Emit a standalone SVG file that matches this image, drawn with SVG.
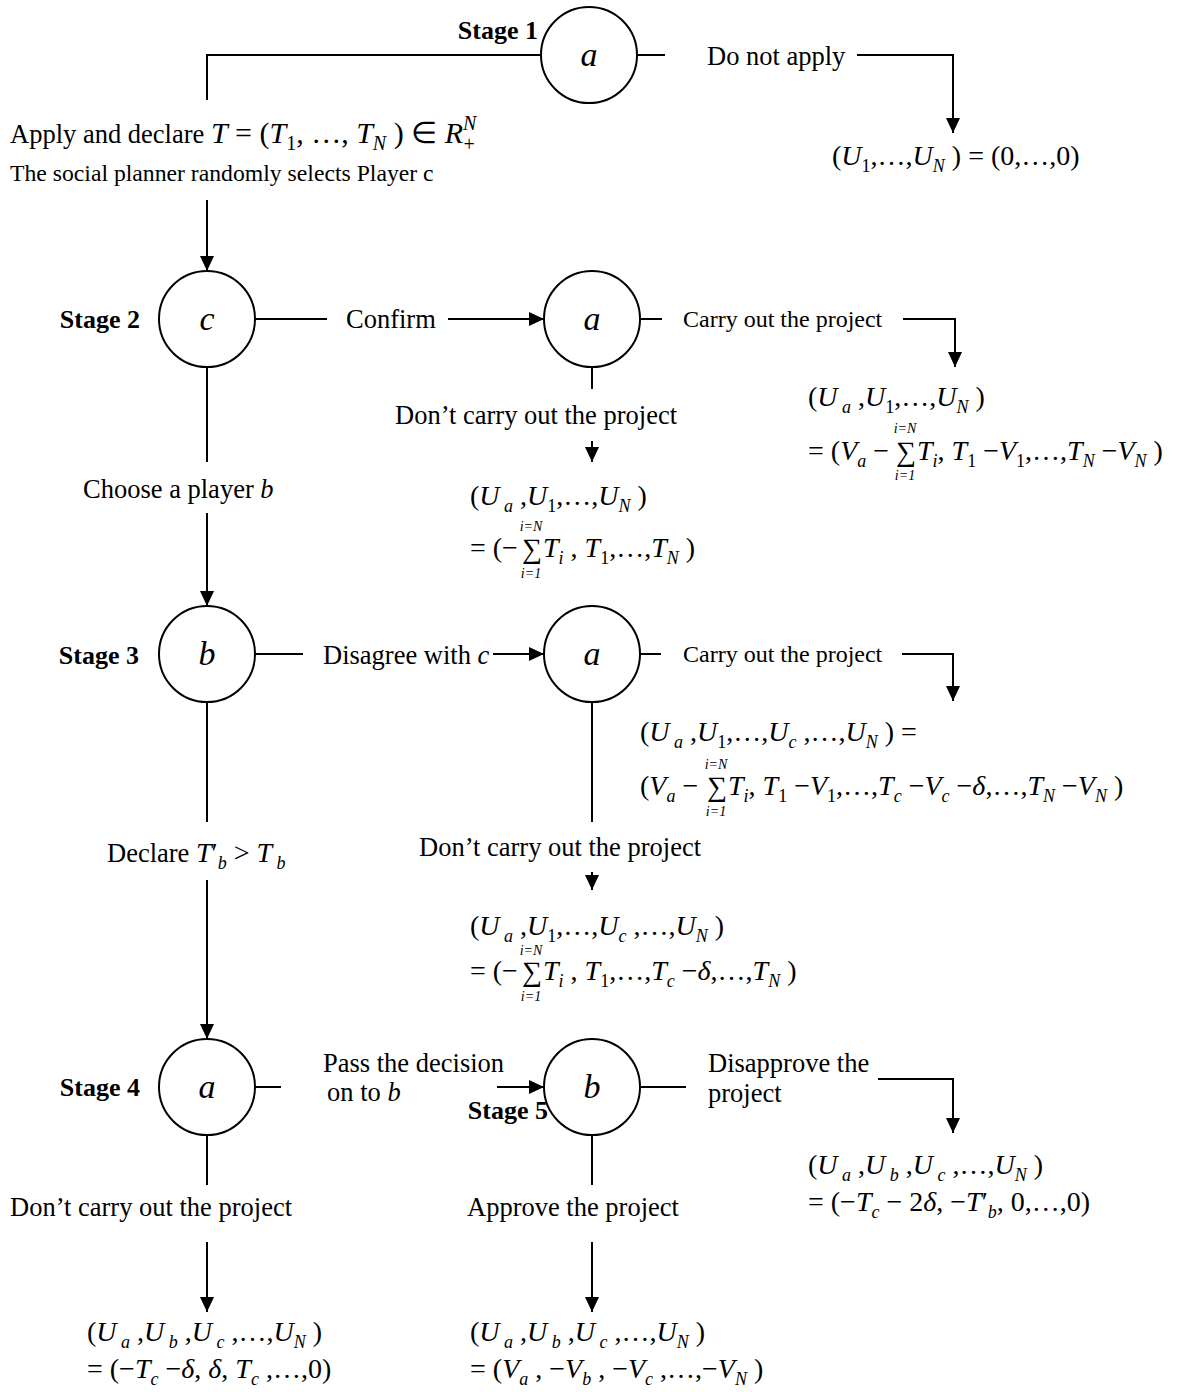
<svg xmlns="http://www.w3.org/2000/svg" width="1188" height="1392" viewBox="0 0 1188 1392">
<style>
.t{font-family:"Liberation Serif","Times New Roman",serif;font-size:26.5px;fill:#000}
.sm{font-size:24px}
.sp{font-size:23.7px}
.bd{font-weight:bold;font-size:26px}
.m{font-size:28px}
.ml{font-size:30px}
.i{font-style:italic}
.s{font-size:18px}
.sl{font-size:20px}
.sg{font-size:28px}
.lim{font-family:"Liberation Serif","Times New Roman",serif;font-size:14px;font-style:italic;text-anchor:middle;fill:#000}
.node{fill:#fff;stroke:#000;stroke-width:2}
.lbl{font-family:"Liberation Serif","Times New Roman",serif;font-size:34px;font-style:italic;text-anchor:middle;fill:#000}
.c{fill:none;stroke:#000;stroke-width:2}
.ar{marker-end:url(#ah)}
</style>
<defs>
<marker id="ah" markerWidth="16" markerHeight="14" refX="15" refY="7" orient="auto" markerUnits="userSpaceOnUse"><path d="M0,0 L15,7 L0,14 z" fill="#000"/></marker>
</defs>
<rect width="1188" height="1392" fill="#fff"/>

<g id="connectors">
<path class="c" d="M541,55 H207 V100"/>
<path class="c" d="M637,55 H665"/>
<path class="c ar" d="M857,55 H953 V133"/>
<path class="c ar" d="M207,200 V271"/>
<path class="c" d="M255,319 H327"/>
<path class="c ar" d="M448,319 H544"/>
<path class="c" d="M640,319 H662"/>
<path class="c ar" d="M903,319 H955 V367"/>
<path class="c" d="M592,367 V389"/>
<path class="c ar" d="M592,441 V462"/>
<path class="c" d="M207,367 V462"/>
<path class="c ar" d="M207,513 V606"/>
<path class="c" d="M255,654 H303"/>
<path class="c ar" d="M493,654 H544"/>
<path class="c" d="M640,654 H661"/>
<path class="c ar" d="M902,654 H953 V701"/>
<path class="c" d="M592,702 V822"/>
<path class="c ar" d="M592,872 V890"/>
<path class="c" d="M207,702 V822"/>
<path class="c ar" d="M207,880 V1039"/>
<path class="c" d="M255,1087 H281"/>
<path class="c ar" d="M497,1087 H544"/>
<path class="c" d="M640,1087 H686"/>
<path class="c ar" d="M878,1079 H953 V1133"/>
<path class="c" d="M207,1135 V1185"/>
<path class="c ar" d="M207,1242 V1312"/>
<path class="c" d="M592,1135 V1185"/>
<path class="c ar" d="M592,1242 V1312"/>
</g>

<g id="node-stage1-a">
<circle class="node" cx="589" cy="55" r="48"/>
<text class="lbl" x="589" y="66">a</text>
<text class="t bd" x="538" y="39" text-anchor="end">Stage 1</text>
</g>
<g id="node-stage2-c">
<circle class="node" cx="207" cy="319" r="48"/>
<text class="lbl" x="207" y="330">c</text>
<text class="t bd" x="140" y="328" text-anchor="end">Stage 2</text>
</g>
<g id="node-stage2-a">
<circle class="node" cx="592" cy="319" r="48"/>
<text class="lbl" x="592" y="330">a</text>
</g>
<g id="node-stage3-b">
<circle class="node" cx="207" cy="654" r="48"/>
<text class="lbl" x="207" y="665">b</text>
<text class="t bd" x="139" y="664" text-anchor="end">Stage 3</text>
</g>
<g id="node-stage3-a">
<circle class="node" cx="592" cy="654" r="48"/>
<text class="lbl" x="592" y="665">a</text>
</g>
<g id="node-stage4-a">
<circle class="node" cx="207" cy="1087" r="48"/>
<text class="lbl" x="207" y="1098">a</text>
<text class="t bd" x="140" y="1096" text-anchor="end">Stage 4</text>
</g>
<g id="node-stage5-b">
<circle class="node" cx="592" cy="1087" r="48"/>
<text class="lbl" x="592" y="1098">b</text>
<text class="t bd" x="548" y="1119" text-anchor="end">Stage 5</text>
</g>

<g id="labels">
<text class="t" x="707" y="65">Do not apply</text>
<text class="t" x="10" y="143">Apply and declare <tspan class="i ml">T</tspan><tspan class="ml"> = (</tspan><tspan class="i ml">T</tspan><tspan class="sl" dy="7">1</tspan><tspan class="ml" dy="-7">, …, </tspan><tspan class="i ml">T</tspan><tspan class="sl i" dy="7">N</tspan><tspan class="ml" dy="-7"> ) ∈ </tspan><tspan class="i ml">R</tspan><tspan class="sl i" dy="-13">N</tspan><tspan class="sl" dx="-13" dy="21">+</tspan></text>
<text class="t sp" x="10" y="181">The social planner randomly selects Player c</text>
<text class="t" x="346" y="328">Confirm</text>
<text class="t sm" x="683" y="327">Carry out the project</text>
<text class="t" x="395" y="424">Don’t carry out the project</text>
<text class="t" x="83" y="498">Choose a player <tspan class="i">b</tspan></text>
<text class="t" x="323" y="664">Disagree with <tspan class="i">c</tspan></text>
<text class="t sm" x="683" y="662">Carry out the project</text>
<text class="t" x="107" y="862">Declare <tspan class="i m">T</tspan><tspan class="m">′</tspan><tspan class="s i" dy="7">b</tspan><tspan class="m" dy="-7"> &gt; </tspan><tspan class="i m">T</tspan><tspan class="s i" dy="7"> b</tspan></text>
<text class="t" x="419" y="856">Don’t carry out the project</text>
<text class="t" x="323" y="1072">Pass the decision</text>
<text class="t" x="327" y="1101">on to <tspan class="i">b</tspan></text>
<text class="t" x="708" y="1072">Disapprove the</text>
<text class="t" x="708" y="1102">project</text>
<text class="t" x="10" y="1216">Don’t carry out the project</text>
<text class="t" x="467" y="1216">Approve the project</text>
</g>

<g id="payoffs">
<text class="t m" x="832" y="165">(<tspan class="i">U</tspan><tspan class="s" dy="7">1</tspan><tspan dy="-7">,…,</tspan><tspan class="i">U</tspan><tspan class="s i" dy="7">N</tspan><tspan dy="-7"> ) = (0,…,0)</tspan></text>

<text class="t m" x="808" y="406">(<tspan class="i">U</tspan><tspan class="s i" dy="7"> a</tspan><tspan dy="-7"> ,</tspan><tspan class="i">U</tspan><tspan class="s" dy="7">1</tspan><tspan dy="-7">,…,</tspan><tspan class="i">U</tspan><tspan class="s i" dy="7">N</tspan><tspan dy="-7"> )</tspan></text>
<text class="t m" x="808" y="460">= (<tspan class="i">V</tspan><tspan class="s i" dy="7">a</tspan><tspan dy="-7"> −</tspan></text>
<text class="t sg" x="896" y="461">∑</text>
<text class="lim" x="905" y="433">i=N</text>
<text class="lim" x="905" y="480">i=1</text>
<text class="t m" x="917" y="460"><tspan class="i">T</tspan><tspan class="s i" dy="7">i</tspan><tspan dy="-7">, </tspan><tspan class="i">T</tspan><tspan class="s" dy="7">1</tspan><tspan dy="-7"> −</tspan><tspan class="i">V</tspan><tspan class="s" dy="7">1</tspan><tspan dy="-7">,…,</tspan><tspan class="i">T</tspan><tspan class="s i" dy="7">N</tspan><tspan dy="-7"> −</tspan><tspan class="i">V</tspan><tspan class="s i" dy="7">N</tspan><tspan dy="-7"> )</tspan></text>

<text class="t m" x="470" y="505">(<tspan class="i">U</tspan><tspan class="s i" dy="7"> a</tspan><tspan dy="-7"> ,</tspan><tspan class="i">U</tspan><tspan class="s" dy="7">1</tspan><tspan dy="-7">,…,</tspan><tspan class="i">U</tspan><tspan class="s i" dy="7">N</tspan><tspan dy="-7"> )</tspan></text>
<text class="t m" x="470" y="557">= (−</text>
<text class="t sg" x="522" y="558">∑</text>
<text class="lim" x="531" y="531">i=N</text>
<text class="lim" x="531" y="578">i=1</text>
<text class="t m" x="543" y="557"><tspan class="i">T</tspan><tspan class="s i" dy="7">i</tspan><tspan dy="-7"> , </tspan><tspan class="i">T</tspan><tspan class="s" dy="7">1</tspan><tspan dy="-7">,…,</tspan><tspan class="i">T</tspan><tspan class="s i" dy="7">N</tspan><tspan dy="-7"> )</tspan></text>

<text class="t m" x="640" y="741">(<tspan class="i">U</tspan><tspan class="s i" dy="7"> a</tspan><tspan dy="-7"> ,</tspan><tspan class="i">U</tspan><tspan class="s" dy="7">1</tspan><tspan dy="-7">,…,</tspan><tspan class="i">U</tspan><tspan class="s i" dy="7">c</tspan><tspan dy="-7"> ,…,</tspan><tspan class="i">U</tspan><tspan class="s i" dy="7">N</tspan><tspan dy="-7"> ) =</tspan></text>
<text class="t m" x="640" y="795">(<tspan class="i">V</tspan><tspan class="s i" dy="7">a</tspan><tspan dy="-7"> −</tspan></text>
<text class="t sg" x="707" y="796">∑</text>
<text class="lim" x="716" y="769">i=N</text>
<text class="lim" x="716" y="816">i=1</text>
<text class="t m" x="728" y="795"><tspan class="i">T</tspan><tspan class="s i" dy="7">i</tspan><tspan dy="-7">, </tspan><tspan class="i">T</tspan><tspan class="s" dy="7">1</tspan><tspan dy="-7"> −</tspan><tspan class="i">V</tspan><tspan class="s" dy="7">1</tspan><tspan dy="-7">,…,</tspan><tspan class="i">T</tspan><tspan class="s i" dy="7">c</tspan><tspan dy="-7"> −</tspan><tspan class="i">V</tspan><tspan class="s i" dy="7">c</tspan><tspan dy="-7"> −</tspan><tspan class="i">δ</tspan><tspan>,…,</tspan><tspan class="i">T</tspan><tspan class="s i" dy="7">N</tspan><tspan dy="-7"> −</tspan><tspan class="i">V</tspan><tspan class="s i" dy="7">N</tspan><tspan dy="-7"> )</tspan></text>

<text class="t m" x="470" y="935">(<tspan class="i">U</tspan><tspan class="s i" dy="7"> a</tspan><tspan dy="-7"> ,</tspan><tspan class="i">U</tspan><tspan class="s" dy="7">1</tspan><tspan dy="-7">,…,</tspan><tspan class="i">U</tspan><tspan class="s i" dy="7">c</tspan><tspan dy="-7"> ,…,</tspan><tspan class="i">U</tspan><tspan class="s i" dy="7">N</tspan><tspan dy="-7"> )</tspan></text>
<text class="t m" x="470" y="980">= (−</text>
<text class="t sg" x="522" y="981">∑</text>
<text class="lim" x="531" y="955">i=N</text>
<text class="lim" x="531" y="1001">i=1</text>
<text class="t m" x="543" y="980"><tspan class="i">T</tspan><tspan class="s i" dy="7">i</tspan><tspan dy="-7"> , </tspan><tspan class="i">T</tspan><tspan class="s" dy="7">1</tspan><tspan dy="-7">,…,</tspan><tspan class="i">T</tspan><tspan class="s i" dy="7">c</tspan><tspan dy="-7"> −</tspan><tspan class="i">δ</tspan><tspan>,…,</tspan><tspan class="i">T</tspan><tspan class="s i" dy="7">N</tspan><tspan dy="-7"> )</tspan></text>

<text class="t m" x="808" y="1174">(<tspan class="i">U</tspan><tspan class="s i" dy="7"> a</tspan><tspan dy="-7"> ,</tspan><tspan class="i">U</tspan><tspan class="s i" dy="7"> b</tspan><tspan dy="-7"> ,</tspan><tspan class="i">U</tspan><tspan class="s i" dy="7"> c</tspan><tspan dy="-7"> ,…,</tspan><tspan class="i">U</tspan><tspan class="s i" dy="7">N</tspan><tspan dy="-7"> )</tspan></text>
<text class="t m" x="808" y="1211">= (−<tspan class="i">T</tspan><tspan class="s i" dy="7">c</tspan><tspan dy="-7"> − 2</tspan><tspan class="i">δ</tspan><tspan>, −</tspan><tspan class="i">T</tspan><tspan>′</tspan><tspan class="s i" dy="7">b</tspan><tspan dy="-7">, 0,…,0)</tspan></text>

<text class="t m" x="87" y="1341">(<tspan class="i">U</tspan><tspan class="s i" dy="7"> a</tspan><tspan dy="-7"> ,</tspan><tspan class="i">U</tspan><tspan class="s i" dy="7"> b</tspan><tspan dy="-7"> ,</tspan><tspan class="i">U</tspan><tspan class="s i" dy="7"> c</tspan><tspan dy="-7"> ,…,</tspan><tspan class="i">U</tspan><tspan class="s i" dy="7">N</tspan><tspan dy="-7"> )</tspan></text>
<text class="t m" x="87" y="1378">= (−<tspan class="i">T</tspan><tspan class="s i" dy="7">c</tspan><tspan dy="-7"> −</tspan><tspan class="i">δ</tspan><tspan>, </tspan><tspan class="i">δ</tspan><tspan>, </tspan><tspan class="i">T</tspan><tspan class="s i" dy="7">c</tspan><tspan dy="-7"> ,…,0)</tspan></text>

<text class="t m" x="470" y="1341">(<tspan class="i">U</tspan><tspan class="s i" dy="7"> a</tspan><tspan dy="-7"> ,</tspan><tspan class="i">U</tspan><tspan class="s i" dy="7"> b</tspan><tspan dy="-7"> ,</tspan><tspan class="i">U</tspan><tspan class="s i" dy="7"> c</tspan><tspan dy="-7"> ,…,</tspan><tspan class="i">U</tspan><tspan class="s i" dy="7">N</tspan><tspan dy="-7"> )</tspan></text>
<text class="t m" x="470" y="1378">= (<tspan class="i">V</tspan><tspan class="s i" dy="7">a</tspan><tspan dy="-7"> , −</tspan><tspan class="i">V</tspan><tspan class="s i" dy="7">b</tspan><tspan dy="-7"> , −</tspan><tspan class="i">V</tspan><tspan class="s i" dy="7">c</tspan><tspan dy="-7"> ,…,−</tspan><tspan class="i">V</tspan><tspan class="s i" dy="7">N</tspan><tspan dy="-7"> )</tspan></text>
</g>
</svg>
